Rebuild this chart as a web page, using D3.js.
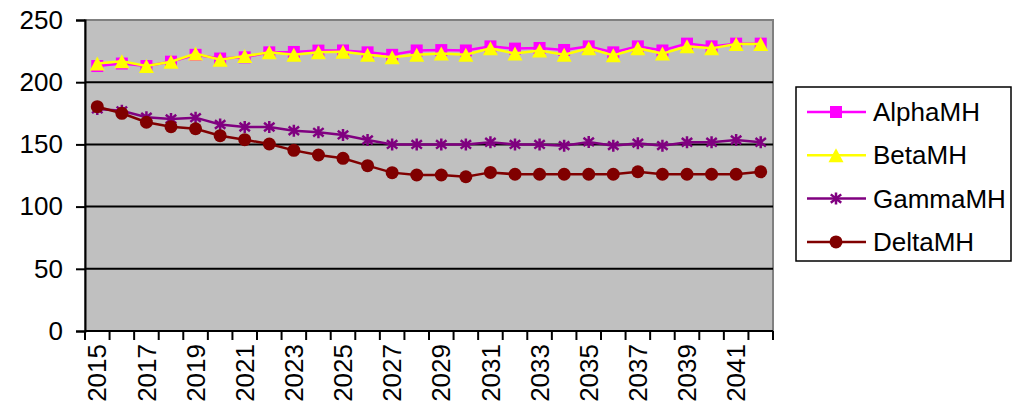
<!DOCTYPE html>
<html><head><meta charset="utf-8">
<script src="https://cdn.jsdelivr.net/npm/d3@7"></script>
<style>
html,body{margin:0;padding:0;background:#fff;}
svg{display:block;font-family:"Liberation Sans",Arial,sans-serif;}
</style></head>
<body>
<svg id="c" width="1013" height="418"></svg>
<script>
const years = [2015,2016,2017,2018,2019,2020,2021,2022,2023,2024,2025,2026,2027,2028,2029,2030,2031,2032,2033,2034,2035,2036,2037,2038,2039,2040,2041,2042];
const alphaMH = [213,215,213,216.5,222,219,220,224,224.3,225.4,225.5,224,222,225.5,225.8,225.5,228.8,227,227.5,225.9,228.8,224,228.8,225.5,231,228.8,231,231];
const betaMH  = [215,216.8,213,216.5,223,218,221,224,222,224,224.5,222,220,222,223,222,227.2,223,225.4,222,227.2,221.6,227.2,223,228.8,227.2,230.7,230.7];
const gammaMH = [178.5,177,171.8,170.4,171.5,166,164,164,161,159.7,157.6,153.5,150,150,150,150,151.7,150,150,149,152,149,151,149,151.7,151.7,153.5,151.7];
const deltaMH = [180.3,175,167.8,164.2,162.6,157,153.8,150.3,145.2,141.5,138.8,132.9,127.3,125.4,125.4,124,127.5,126,126,126,126,126,128,126,126,126,126,128];
const yTicks = [0,50,100,150,200,250];
const xLabels = years.filter((d,i)=>i%2===0);

const series = [
  {name:"AlphaMH", values:alphaMH, color:"#FF00FF", marker:"square"},
  {name:"BetaMH", values:betaMH, color:"#FFFF00", marker:"triangle"},
  {name:"GammaMH", values:gammaMH, color:"#800080", marker:"star"},
  {name:"DeltaMH", values:deltaMH, color:"#800000", marker:"circle"}
];

const svg = d3.select("#c");
const L=85, R=773, T=20, B=331;
const x = d3.scaleBand().domain(years).range([L,R]).padding(0);
const y = d3.scaleLinear().domain([0,250]).range([B,T]);
const FS = 26;

// plot background
svg.append("rect").attr("x",L).attr("y",T).attr("width",R-L).attr("height",B-T)
  .attr("fill","#C0C0C0").attr("stroke","#808080").attr("stroke-width",2);

// gridlines
svg.append("g").selectAll("line").data(yTicks.filter(d=>d>0&&d<250)).join("line")
  .attr("x1",L).attr("x2",R).attr("y1",d=>y(d)).attr("y2",d=>y(d))
  .attr("stroke","#000").attr("stroke-width",2);

// y axis
const yAxis = d3.axisLeft(y).tickValues(yTicks).tickSize(9).tickPadding(13).tickFormat(d3.format("d"));
const gy = svg.append("g").attr("transform",`translate(${L},0)`).call(yAxis);
gy.select(".domain").attr("stroke","#000").attr("stroke-width",2);
gy.selectAll(".tick line").attr("stroke","#000").attr("stroke-width",2);
gy.selectAll(".tick text").attr("font-size",FS).attr("fill","#000").attr("font-family","Liberation Sans, Arial, sans-serif");

// x axis
const boundaries = years.map(d=>x(d)).concat([R]);
const gx = svg.append("g");
gx.append("line").attr("x1",L).attr("x2",R).attr("y1",B).attr("y2",B).attr("stroke","#000").attr("stroke-width",2);
gx.selectAll("line.t").data(boundaries).join("line").attr("class","t")
  .attr("x1",d=>d).attr("x2",d=>d).attr("y1",B).attr("y2",B+9).attr("stroke","#000").attr("stroke-width",2);
gx.selectAll("text").data(xLabels).join("text")
  .attr("transform",d=>`translate(${x(d)+x.bandwidth()/2},${B+13}) rotate(-90)`)
  .attr("text-anchor","end").attr("dy","0.35em")
  .attr("font-size",FS).attr("fill","#000").text(d=>d);

function drawMarker(g, type, color, cx, cy, scale=1){
  if(type==="square"){
    const s=12*scale;
    g.append("rect").attr("x",cx-s/2).attr("y",cy-s/2).attr("width",s).attr("height",s).attr("fill",color);
  } else if(type==="triangle"){
    const w=15*scale, h=14*scale;
    g.append("path").attr("d",`M${cx},${cy-h/2}L${cx+w/2},${cy+h/2}L${cx-w/2},${cy+h/2}Z`).attr("fill",color);
  } else if(type==="star"){
    const r=6*scale;
    g.append("path").attr("d",`M${cx},${cy-r}V${cy+r}M${cx-r*0.87},${cy-r*0.7}L${cx+r*0.87},${cy+r*0.7}M${cx-r*0.87},${cy+r*0.7}L${cx+r*0.87},${cy-r*0.7}`)
      .attr("stroke",color).attr("stroke-width",2.5).attr("fill","none");
  } else {
    g.append("circle").attr("cx",cx).attr("cy",cy).attr("r",6.5*scale).attr("fill",color);
  }
}

const line = d3.line().x((d,i)=>x(years[i])+x.bandwidth()/2).y(d=>y(d));
series.forEach(s=>{
  const g = svg.append("g");
  g.append("path").datum(s.values).attr("d",line).attr("fill","none").attr("stroke",s.color).attr("stroke-width",2.5);
  s.values.forEach((v,i)=>drawMarker(g,s.marker,s.color,x(years[i])+x.bandwidth()/2,y(v)));
});

// legend
const lg = svg.append("g");
lg.append("rect").attr("x",796).attr("y",87).attr("width",215).attr("height",174)
  .attr("fill","#fff").attr("stroke","#000").attr("stroke-width",1.5);
series.forEach((s,i)=>{
  const cy = 112 + i*43.3;
  lg.append("line").attr("x1",807).attr("x2",866).attr("y1",cy).attr("y2",cy).attr("stroke",s.color).attr("stroke-width",2.5);
  drawMarker(lg,s.marker,s.color,836,cy);
  lg.append("text").attr("x",873).attr("y",cy).attr("dy","0.35em").attr("font-size",FS).attr("fill","#000").text(s.name);
});
</script>
</body></html>
